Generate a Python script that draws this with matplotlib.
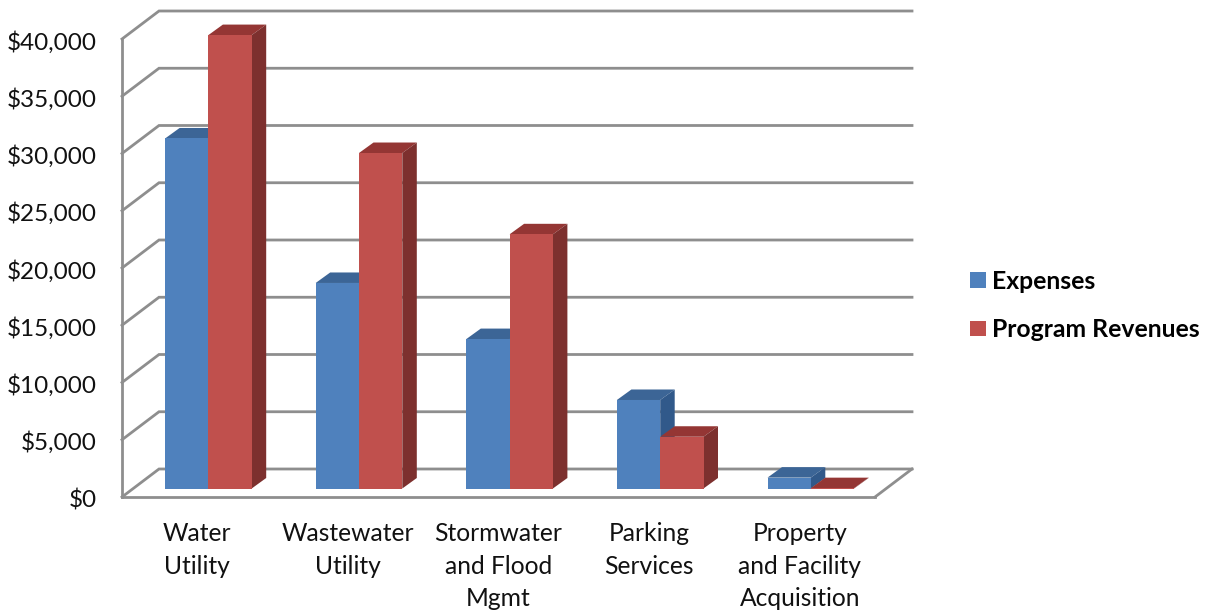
import matplotlib
matplotlib.use("Agg")
import matplotlib.pyplot as plt
from matplotlib.patches import Patch, Polygon
from matplotlib.transforms import ScaledTranslation

plt.rcParams['font.family'] = ['Lato', 'DejaVu Sans']

categories = ["Water\nUtility", "Wastewater\nUtility", "Stormwater\nand Flood\nMgmt",
              "Parking\nServices", "Property\nand Facility\nAcquisition"]
expenses = [30570, 17950, 13050, 7730, 950]
program_revenues = [39600, 29300, 22200, 4520, 30]
value_ticks = [0, 5000, 10000, 15000, 20000, 25000, 30000, 35000, 40000]

BLUE = ("#4f81bd", "#3c6596", "#31598a")
RED = ("#c0504d", "#943634", "#7d302e")
GRID = "#8e8e8e"

W, H = 1210, 612
LEFT, RIGHT, TOP, BOTTOM = 122, 875, 39, 497

fig = plt.figure(figsize=(W / 100, H / 100), dpi=100)
ax = fig.add_axes([LEFT / W, 1 - BOTTOM / H, (RIGHT - LEFT) / W, (BOTTOM - TOP) / H])
ax.set_xlim(-0.5, 4.5)
ax.set_ylim(0, 40000)

# pixel sizes expressed in axis units, for the oblique projection
px_x = 5 / (RIGHT - LEFT)
px_y = 40000 / (BOTTOM - TOP)
wall_dx, wall_dy = 37 * px_x, 28 * px_y
bar_dx, bar_dy = 14.5 * px_x, 10.5 * px_y
bar_w = 43.3 * px_x
bar_start = -32.2 * px_x
bar_base = 8.5 * px_y

# back wall gridlines with their slanted returns along the side wall
x0, x1 = ax.get_xlim()
for v in value_ticks:
    ax.plot([x0, x0 + wall_dx, x1 + wall_dx], [v, v + wall_dy, v + wall_dy],
            color=GRID, lw=2.0, clip_on=False, zorder=1, solid_joinstyle="miter")
# floor outline
ax.plot([x1, x1 + wall_dx], [0, wall_dy], color=GRID, lw=2.0, clip_on=False, zorder=1)


def draw_bar(x, value, colors, z):
    y0, y1 = bar_base, bar_base + value
    ax.bar(x, value, width=bar_w, bottom=y0, align="edge", color=colors[0],
           linewidth=0, zorder=z + 0.2, clip_on=False)
    ax.add_patch(Polygon([(x, y1), (x + bar_dx, y1 + bar_dy),
                          (x + bar_w + bar_dx, y1 + bar_dy), (x + bar_w, y1)],
                         closed=True, fc=colors[1], ec="none", zorder=z, clip_on=False))
    ax.add_patch(Polygon([(x + bar_w, y0), (x + bar_w + bar_dx, y0 + bar_dy),
                          (x + bar_w + bar_dx, y1 + bar_dy), (x + bar_w, y1)],
                         closed=True, fc=colors[2], ec="none", zorder=z, clip_on=False))


for i, (e, r) in enumerate(zip(expenses, program_revenues)):
    base = i + bar_start
    draw_bar(base, e, BLUE, 2 + i)
    draw_bar(base + bar_w, r, RED, 2.5 + i)

for side in ("top", "right"):
    ax.spines[side].set_visible(False)
for side in ("left", "bottom"):
    ax.spines[side].set_color(GRID)
    ax.spines[side].set_linewidth(2.0)
    ax.spines[side].set_zorder(1.5)

ax.set_yticks(value_ticks)
ax.set_yticklabels([f"${v:,}" for v in value_ticks], fontsize=17.5, color="#111111")
ax.set_xticks(range(len(categories)))
ax.set_xticklabels(categories, fontsize=17.7, color="#111111", linespacing=1.5)
ax.tick_params(axis="y", length=0, pad=18)
ax.tick_params(axis="x", length=0, pad=18)
ax.patch.set_alpha(0)

# nudge the value labels down so they sit centred on the axis levels
for label in ax.get_yticklabels():
    label.set_transform(label.get_transform() + ScaledTranslation(0, -1.2 / 100, fig.dpi_scale_trans))

handles = [Patch(fc=BLUE[0], ec="none", label="Expenses"),
           Patch(fc=RED[0], ec="none", label="Program Revenues")]
fig.legend(handles=handles, loc="center left", bbox_to_anchor=(963 / W, 1 - 305.5 / H),
           frameon=False, prop={"size": 17.85, "weight": "bold"},
           handlelength=0.61, handleheight=0.61, handletextpad=0.26,
           labelspacing=1.03, borderpad=0, borderaxespad=0.3)

fig.savefig("out.png", dpi=100, facecolor="white")
